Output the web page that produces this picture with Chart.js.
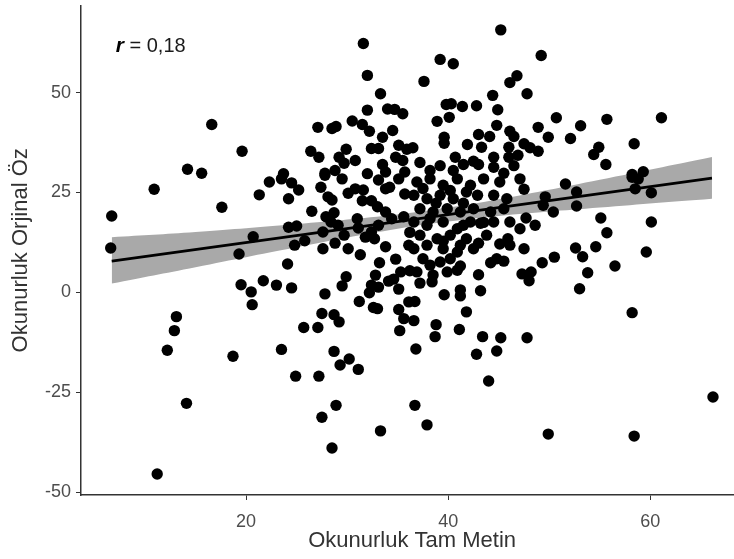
<!DOCTYPE html>
<html>
<head>
<meta charset="utf-8">
<script src="https://cdn.jsdelivr.net/npm/chart.js@4.4.1/dist/chart.umd.min.js"></script>
<style>
  html, body { margin: 0; background: #fff; overflow: hidden; }
  canvas { display: block; }
</style>
</head>
<body>
<!-- o painel original é cortado na borda direita: o canvas passa um pouco da janela -->
<canvas id="grafico" width="749" height="559"></canvas>
<script>
// ================= DATA =================
// Okunurluk Tam Metin (x) / Okunurluk Orjinal Öz (y)
const tamMetin = [
  16.6, 19.6, 14.2, 15.6,
  31.6, 32.0, 33.3, 32.0, 34.0, 34.7, 35.5, 30.5, 27.1, 28.5, 28.9, 31.5, 32.2, 34.5, 33.5,
  26.4, 27.2, 29.9, 29.2, 29.7, 30.8, 32.4, 33.1, 35.1, 34.8, 35.9, 33.5, 35.5,
  23.7, 27.8, 28.8, 32.0, 33.8, 35.7,
  45.2, 49.2, 39.2, 40.5, 37.6, 46.8, 46.1, 47.8, 44.4, 39.8, 40.3, 41.4, 42.8, 44.9,
  38.9, 40.1, 44.8, 50.7, 48.9, 46.1, 46.5, 49.9, 52.1, 43.0, 44.1, 39.6, 39.6, 36.5,
  41.9, 43.3, 46.0, 47.5, 48.1, 48.9, 44.5, 46.0, 46.9, 40.7, 42.5, 37.2, 39.2, 41.5,
  43.0, 44.5, 46.5, 38.2, 40.5, 45.5,
  61.1, 55.7, 53.1, 58.4, 54.9, 54.4, 55.6, 58.2, 59.3,
  10.9, 6.7, 17.6, 6.6, 19.3, 19.5, 13.1, 12.9,
  22.3, 21.3, 24.2, 23.5, 24.5, 25.2, 27.4, 27.8, 29.5, 28.1, 28.5, 30.1, 30.8, 31.6,
  31.5, 32.4, 33.0, 33.8, 34.2, 33.1, 35.1, 35.7, 26.5, 27.9, 28.7, 28.4, 24.2, 25.0,
  29.1, 31.0, 31.1, 33.8, 34.4, 35.6, 33.1, 32.4, 31.8, 20.7, 24.8, 25.8, 27.6, 27.6,
  28.8, 30.1, 29.7, 32.7, 33.8, 36.1, 31.3, 24.1, 33.2, 34.8, 35.3, 34.6, 32.8, 34.1,
  29.9, 29.5, 32.4, 33.1, 35.1, 21.7, 23.0, 24.5, 20.5, 20.6, 27.8, 32.2, 31.2, 32.6,
  33.0, 35.1, 36.1, 27.5, 28.7, 29.2, 25.7, 27.1, 35.6, 35.2,
  51.6, 47.1, 47.5, 49.6, 50.4, 49.4, 47.7, 48.6, 43.2, 46.1, 45.9, 47.1, 45.1, 46.1,
  47.5, 44.8, 44.2, 45.5, 50.5, 49.3, 47.3, 48.2, 48.0, 43.0, 41.2, 43.2, 41.2, 41.2,
  39.6, 36.7, 38.4, 36.2, 41.8, 36.6, 38.8, 41.1, 43.4, 45.2, 47.8, 38.7,
  36.9, 38.2, 39.5, 40.9, 42.2, 43.5, 45.1, 36.6, 37.9, 39.2, 40.5, 41.8, 44.5, 45.8,
  37.2, 38.5, 39.9, 41.2, 42.5, 44.2, 45.5, 36.6, 37.9, 39.5, 40.9, 42.2, 44.5, 37.2,
  38.9, 40.2, 41.8, 43.8, 36.6, 37.9, 39.5, 40.9, 42.5, 37.5, 39.2, 40.2, 36.9, 38.5, 39.9,
  37.5, 40.2, 42.9, 38.8, 41.5, 43.5, 38.2, 41.5, 36.2, 39.5, 43.0, 41.2, 38.2, 40.9, 37.2,
  58.2, 58.8, 58.5, 60.1, 52.7, 52.7, 55.1, 60.1, 55.7, 54.6, 52.6, 53.3, 59.6, 56.5,
  53.8, 53.0, 58.2,
  12.2, 18.7, 14.1, 11.2,
  23.5, 28.7, 30.2, 29.3, 31.1, 24.9, 27.2, 28.9, 27.5, 33.3, 28.5,
  36.8, 42.8, 44.8, 44.0, 36.7, 37.9, 49.9,
  66.2, 58.4
];
const orjinalOz = [
  42.0, 35.3, 30.8, 29.8,
  62.3, 54.3, 49.7, 45.6, 45.9, 45.8, 44.7, 42.9, 41.3, 41.0, 41.5, 42.0, 40.3, 40.5, 38.8,
  35.3, 33.8, 35.8, 33.8, 32.3, 33.0, 36.0, 36.0, 36.8, 33.8, 35.8, 32.0, 33.0,
  29.7, 29.8, 30.5, 29.7, 30.1, 30.1,
  65.7, 59.3, 58.3, 57.2, 52.8, 54.2, 52.5, 49.7, 49.3, 47.0, 47.2, 46.5, 46.7, 45.7,
  42.8, 43.8, 41.8, 43.7, 41.3, 40.3, 39.0, 38.8, 38.5, 39.5, 39.0, 38.8, 37.3, 36.2,
  37.0, 36.3, 36.3, 37.2, 36.2, 35.3, 33.8, 33.8, 34.3, 33.8, 32.8, 32.5, 31.7, 32.0,
  32.0, 31.3, 31.7, 30.5, 30.5, 29.8,
  43.7, 43.3, 41.7, 37.2, 36.3, 34.5, 32.0, 29.5, 30.2,
  25.8, 19.1, 21.3, 11.1, 9.6, 1.9, -6.1, -9.6,
  27.6, 24.4, 23.4, 28.4, 27.4, 25.6, 26.3, 29.3, 28.4, 23.9, 23.1, 24.8, 25.9, 25.6,
  22.9, 22.9, 21.4, 25.9, 26.3, 28.1, 28.4, 24.6, 20.3, 18.9, 19.9, 17.6, 16.3, 16.6,
  16.8, 18.4, 16.1, 20.1, 18.4, 18.9, 16.8, 15.1, 13.8, 13.9, 11.8, 12.9, 15.1, 10.9,
  12.3, 10.9, 14.3, 13.4, 11.4, 11.8, 9.4, 7.1, 7.4, 8.3, 5.1, 3.3, 4.3, 2.8,
  3.9, 1.6, 1.8, 1.3, 0.8, 2.9, 1.8, 1.1, 0.1, -3.1, -0.4, -0.1, -2.3, -3.8,
  -4.1, -4.3, -2.4, -5.3, -5.6, -7.4, -8.8, -8.8, -6.6, -9.6,
  27.1, 28.4, 25.8, 23.9, 20.1, 21.8, 18.6, 16.8, 17.3, 17.6, 13.4, 15.9, 12.1, 11.8,
  10.9, 8.4, 7.4, 7.8, 8.8, 7.4, 4.6, 5.1, 2.9, 4.4, 6.6, 0.4, 0.6, -0.9,
  -0.6, -2.3, 2.6, 5.4, -4.9, -7.1, -8.1, -9.3, -11.1, -11.4, -11.4, -11.1,
  27.6, 28.4, 26.8, 28.4, 26.8, 28.4, 27.6, 24.3, 23.4, 24.3, 23.4, 25.1, 24.3, 23.4,
  20.9, 20.1, 20.9, 20.1, 20.9, 20.1, 20.9, 17.6, 16.8, 17.6, 15.9, 17.6, 17.6, 14.3,
  13.4, 14.3, 13.4, 14.3, 10.9, 11.8, 10.9, 10.1, 10.9, 8.4, 7.6, 8.4, 5.1, 4.3, 5.1,
  26.0, 25.5, 24.3, 22.3, 22.3, 17.5, 18.5, 16.8, 15.0, 12.8, 12.3, 11.8, 6.8, 5.5, 2.3,
  28.8, 28.4, 25.9, 24.9, 25.1, 21.6, 18.6, 17.6, 14.9, 11.4, 11.1, 8.9, 10.1, 6.6,
  4.9, 0.9, -5.1,
  -14.5, -16.0, -27.8, -45.5,
  -14.3, -14.8, -16.7, -18.2, -19.3, -21.0, -21.0, -28.3, -31.3, -34.7, -39.0,
  -14.2, -15.5, -14.7, -22.2, -28.3, -33.2, -35.5,
  -26.2, -36.0
];

// regression line and its confidence band
const linhaX = [6.7, 66.1];
const linhaY = [7.8, 28.6];
const faixaX = [6.7, 15, 25, 35, 40, 45, 55, 66.1];
const faixaBaixo = [2.2, 6.3, 11.3, 15.9, 17.7, 19.1, 21.2, 23.4];
const faixaAlto = [13.8, 15.1, 17.1, 19.5, 21.2, 23.3, 28.2, 33.9];

const ticksX = [20, 40, 60];
const ticksY = [-50, -25, 0, 25, 50];
const rTexto = 'r';
const rValor = ' = 0,18';

// ================= CHART =================
const pontos = tamMetin.map((x, i) => ({ x: x, y: orjinalOz[i] }));
const linha = linhaX.map((x, i) => ({ x: x, y: linhaY[i] }));
const baixo = faixaX.map((x, i) => ({ x: x, y: faixaBaixo[i] }));
const alto = faixaX.map((x, i) => ({ x: x, y: faixaAlto[i] }));

// desenha o "r = 0,18" no canto
const anotacao = {
  id: 'anotacao',
  afterDraw(chart) {
    const c = chart.ctx;
    const px = chart.scales.x.getPixelForValue(7.1);
    const py = chart.scales.y.getPixelForValue(61.5);
    c.save();
    c.fillStyle = '#000';
    c.textBaseline = 'middle';
    c.font = 'italic bold 21px "Liberation Sans", Arial, sans-serif';
    c.fillText(rTexto, px, py);
    const w = c.measureText(rTexto).width;
    c.font = '20px "Liberation Sans", Arial, sans-serif';
    c.fillStyle = '#1a1a1a';
    c.fillText(rValor, px + w, py);
    c.restore();
  }
};

const eixoCor = '#333333';
const fonte = '"Liberation Sans", Arial, sans-serif';

new Chart(document.getElementById('grafico'), {
  type: 'scatter',
  data: {
    datasets: [
      {
        type: 'line', data: linha, borderColor: '#000', borderWidth: 2.7,
        pointRadius: 0, fill: false, tension: 0, order: 1
      },
      {
        data: pontos, backgroundColor: '#000', borderColor: '#000',
        pointRadius: 5.7, pointBorderWidth: 0, order: 2
      },
      {
        type: 'line', data: baixo, borderWidth: 0, borderColor: 'rgba(0,0,0,0)',
        pointRadius: 0, fill: false, tension: 0.4, order: 3
      },
      {
        type: 'line', data: alto, borderWidth: 0, borderColor: 'rgba(0,0,0,0)',
        backgroundColor: '#a9a9a9', pointRadius: 0, fill: '-1', tension: 0.4, order: 3
      }
    ]
  },
  options: {
    responsive: false,
    animation: false,
    layout: { padding: { top: 5, right: 0, left: 0, bottom: 0 } },
    plugins: {
      legend: { display: false },
      tooltip: { enabled: false }
    },
    scales: {
      x: {
        type: 'linear', min: 3.66, max: 69.2,
        afterBuildTicks: s => { s.ticks = ticksX.map(v => ({ value: v })); },
        afterFit: s => { s.height = 64; s.paddingLeft = 0; s.paddingRight = 0; },
        grid: { display: true, drawOnChartArea: false, drawTicks: true, tickLength: 5, tickColor: eixoCor },
        border: { display: true, color: eixoCor, width: 1.5 },
        ticks: { color: '#4d4d4d', font: { family: fonte, size: 18 }, padding: 11, maxRotation: 0 },
        title: { display: true, text: 'Okunurluk Tam Metin', color: '#333', font: { family: fonte, size: 22 }, padding: { bottom: 5 } }
      },
      y: {
        type: 'linear', min: -50.75, max: 71.75,
        afterBuildTicks: s => { s.ticks = ticksY.map(v => ({ value: v })); },
        afterFit: s => { s.width = 81; s.paddingTop = 0; s.paddingBottom = 0; },
        grid: { display: true, drawOnChartArea: false, drawTicks: true, tickLength: 5, tickColor: eixoCor },
        border: { display: true, color: eixoCor, width: 1.5 },
        ticks: { color: '#4d4d4d', font: { family: fonte, size: 18 }, padding: 5 },
        title: { display: true, text: 'Okunurluk Orjinal Öz', color: '#333', font: { family: fonte, size: 22 }, padding: { top: 8 } }
      }
    }
  },
  plugins: [anotacao]
});
</script>
</body>
</html>
